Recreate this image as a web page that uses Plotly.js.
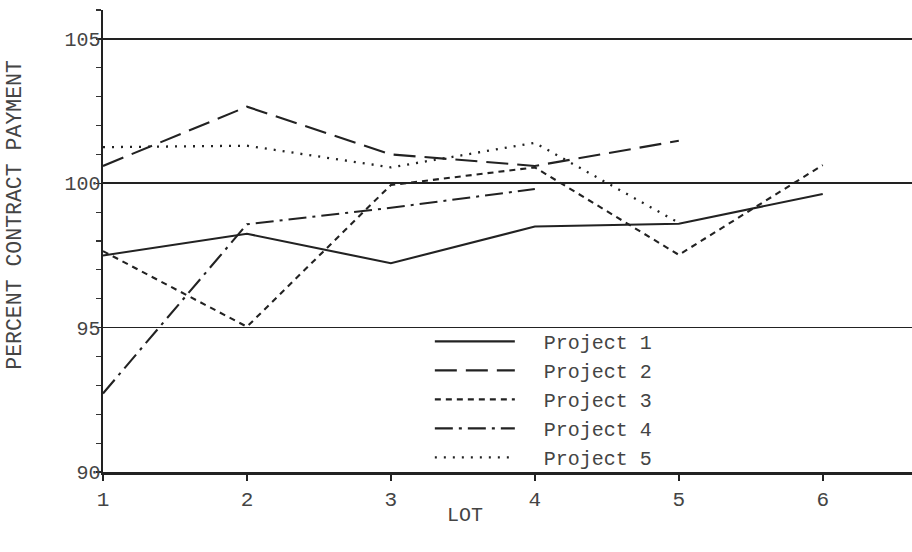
<!DOCTYPE html>
<html>
<head>
<meta charset="utf-8">
<script src="https://cdn.plot.ly/plotly-3.0.1.min.js"></script>
<style>html,body{margin:0;padding:0;background:#fff;}#chart{width:912px;height:552px;}</style>
</head>
<body>
<div id="chart"></div>
<script>
// Data
const lots = [1, 2, 3, 4, 5, 6];
const project1 = [97.5, 98.25, 97.23, 98.5, 98.6, 99.63];
const project2 = [100.6, 102.65, 101.0, 100.6, 101.47];
const project3 = [97.65, 95.03, 99.94, 100.55, 97.52, 100.63];
const project4 = [92.72, 98.58, 99.15, 99.8];
const project5 = [101.25, 101.3, 100.55, 101.4, 98.63];
const seriesNames = ["Project 1", "Project 2", "Project 3", "Project 4", "Project 5"];
const yTickVals = [90, 95, 100, 105];
const xTickVals = [1, 2, 3, 4, 5, 6];

const FONT = "'Liberation Mono', 'DejaVu Sans Mono', monospace";
const ink = "#222";
const dashes = ["solid", "22px,9px", "6px,5px", "18px,6px,3px,6px", "2px,7px"];
const data = [project1, project2, project3, project4, project5].map((ys, i) => ({
  type: "scatter",
  mode: "lines",
  name: "\u00a0\u00a0" + seriesNames[i],
  x: lots.slice(0, ys.length),
  y: ys,
  line: {color: ink, width: i === 4 ? 2.3 : 2.1, dash: dashes[i]}
}));

const layout = {
  width: 912, height: 552,
  margin: {l: 103, r: 0, t: 10, b: 80},
  paper_bgcolor: "#fff", plot_bgcolor: "#fff",
  font: {family: FONT, color: "#444", size: 20},
  showlegend: true,
  legend: {
    x: 0.404, y: 0.325, xanchor: "left", yanchor: "top",
    bgcolor: "rgba(255,255,255,0)", borderwidth: 0,
    font: {family: FONT, size: 20, color: "#444"},
    itemwidth: 80, tracegroupgap: 0
  },
  xaxis: {
    range: [1, 6.62],
    tickvals: xTickVals, ticktext: xTickVals.map(String),
    ticks: "outside", ticklen: 6, tickwidth: 1.5, tickcolor: ink,
    showline: true, linecolor: ink, linewidth: 2.5,
    showgrid: false, zeroline: false,
    tickfont: {family: FONT, size: 21, color: "#444"},
    ticklabelstandoff: 0
  },
  yaxis: {
    range: [90, 106],
    tickvals: yTickVals, ticktext: yTickVals.map(String),
    ticks: "outside", ticklen: 5, tickwidth: 1.5, tickcolor: ink,
    showline: true, linecolor: ink, linewidth: 2.5,
    showgrid: true, gridcolor: ink, gridwidth: 1.6,
    zeroline: false,
    ticklabelstandoff: -9,
    minor: {dtick: 1, tick0: 90, ticks: "outside", ticklen: 5, tickwidth: 1.2, tickcolor: "#333", showgrid: false},
    tickfont: {family: FONT, size: 20, color: "#444"}
  },
  annotations: [
    {text: "PERCENT CONTRACT PAYMENT", xref: "paper", yref: "paper",
     x: -0.108, y: 0.556, xanchor: "center", yanchor: "middle",
     textangle: -90, showarrow: false,
     font: {family: FONT, size: 21.5, color: "#444"}},
    {text: "LOT", xref: "paper", yref: "paper",
     x: 0.447, y: -0.095, xanchor: "center", yanchor: "middle",
     showarrow: false, font: {family: FONT, size: 20, color: "#444"}}
  ]
};

Plotly.newPlot("chart", data, layout, {displayModeBar: false, staticPlot: true});
</script>
</body>
</html>
